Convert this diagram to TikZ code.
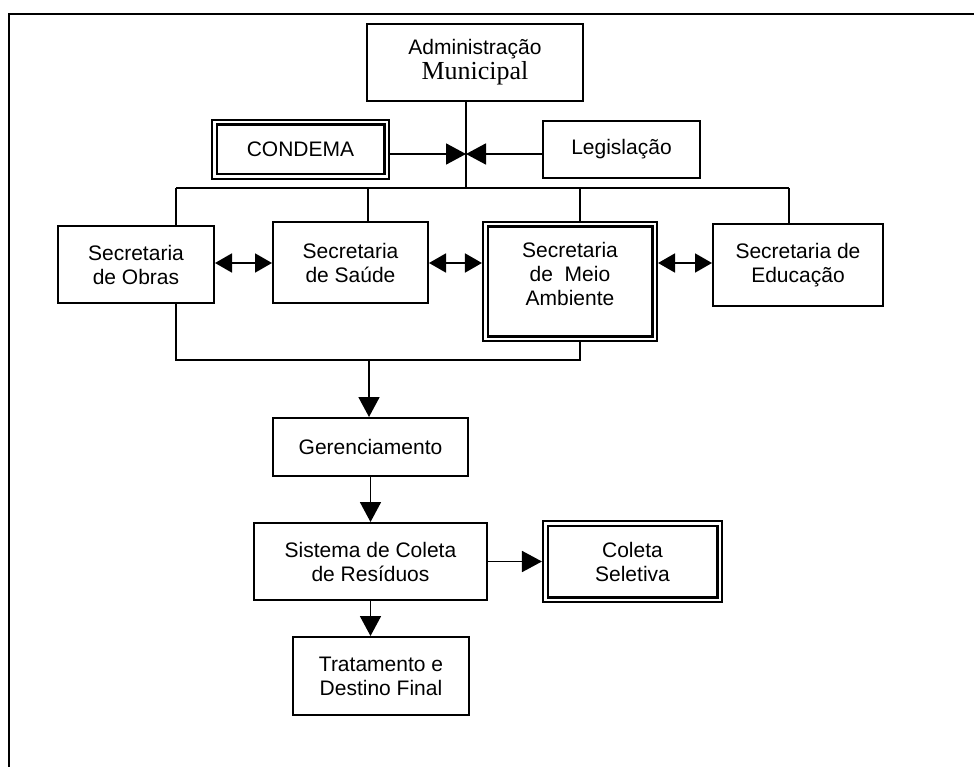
\documentclass[tikz,border=0pt]{standalone}
\usepackage{fontspec}
\setmainfont{Liberation Sans}
\newfontfamily\romanfam{Liberation Serif}
\usetikzlibrary{arrows.meta}

\begin{document}
\begin{tikzpicture}[x=1pt,y=-1pt,
  box/.style={draw, line width=2pt, rectangle, inner sep=0pt, align=center,
              font=\fontsize{21}{24}\selectfont},
  dbox/.style={box, line width=2.1pt, double, double distance=2.4pt},
  link/.style={line width=1.8pt},
  arr/.style={link, -{Triangle[length=20pt,width=21pt]}},
  darr/.style={link, {Triangle[length=17pt,width=19pt]}-{Triangle[length=17pt,width=19pt]}},
  lbl/.style={align=center, inner sep=0pt, font=\fontsize{21}{24}\selectfont}
]
\useasboundingbox (0,0) rectangle (974,767);

% outer frame
\draw[line width=1.8pt] (974,14) -- (9,14) -- (9,767);

% boxes
\node[box, minimum width=216pt, minimum height=77pt] (adm) at (475,62.5)
  {Administração\\[1pt]{\romanfam\fontsize{26}{28}\selectfont Municipal}};
\node[dbox, minimum width=172.4pt, minimum height=54.4pt] (condema) at (300.5,149.5) {CONDEMA};
\node[box, minimum width=157pt, minimum height=57pt] (leg) at (621.5,149.5) {Legislação};

\node[box, minimum width=156pt, minimum height=77pt] (obras) at (136,264.5) {Secretaria\\de Obras};
\node[box, minimum width=155pt, minimum height=81pt] (saude) at (350.5,262.5) {Secretaria\\de Saúde};
\node[dbox, minimum width=169.4pt, minimum height=114.4pt] (meio) at (570,281.5) {};
\node[lbl] (meiotxt) at (570,274) {Secretaria\\de\ \ Meio\\Ambiente};
\node[box, minimum width=170pt, minimum height=82pt] (educ) at (798,265) {Secretaria de\\Educação};

\node[box, minimum width=195pt, minimum height=58pt] (ger) at (370.5,447) {Gerenciamento};
\node[box, minimum width=233pt, minimum height=77pt] (sis) at (370.5,561.5) {Sistema de Coleta\\de\ Resíduos};
\node[dbox, minimum width=174.4pt, minimum height=76.4pt] (col) at (632.5,561.5) {Coleta\\Seletiva};
\node[box, minimum width=176pt, minimum height=78pt] (trat) at (381,676) {Tratamento e\\Destino Final};

% routing points
\coordinate (j) at (466,154);
\coordinate (bus1) at (176,188);
\coordinate (bus2) at (368,188);
\coordinate (bus3) at (580,188);
\coordinate (bus4) at (789,188);
\coordinate (low1) at (176,360);
\coordinate (low2) at (369,360);
\coordinate (low3) at (580,360);
\coordinate (h) at (0,263);

% upper distribution
\draw[link] (adm.south -| j) -- (bus1 -| j);
\draw[link] (bus1) -- (bus4);
\draw[link] (bus1) -- (bus1 |- obras.north);
\draw[link] (bus2) -- (bus2 |- saude.north);
\draw[link] (bus3) -- (bus3 |- meio.north);
\draw[link] (bus4) -- (bus4 |- educ.north);
\draw[arr, shorten <=2.3pt] (condema.east |- j) -- (j);
\draw[arr] (leg.west |- j) -- (j);

% links between secretariats
\draw[darr] (obras.east |- h) -- (saude.west |- h);
\draw[darr, shorten >=2.3pt] (saude.east |- h) -- (meio.west |- h);
\draw[darr, shorten <=2.3pt] (meio.east |- h) -- (educ.west |- h);

% lower collection
\draw[link] (low1 |- obras.south) -- (low1) -- (low3) -- (low3 |- meio.south);
\draw[arr] (low2) -- (low2 |- ger.north);
\draw[arr] (ger.south) -- (sis.north);
\draw[arr, shorten >=2.3pt] (sis.east) -- (col.west);
\draw[arr] (sis.south) -- (sis.south |- trat.north);
\end{tikzpicture}
\end{document}
